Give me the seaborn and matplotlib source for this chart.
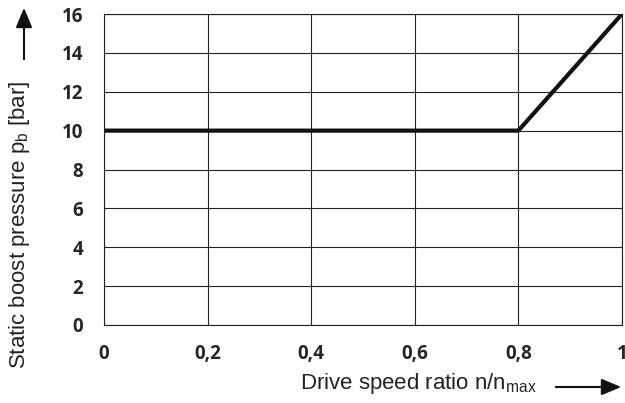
import matplotlib
matplotlib.use('Agg')
import matplotlib.pyplot as plt
import seaborn as sns
import pandas as pd

# 数据：驱动速度比与静态增压压力
speed_ratio = [0.0, 0.8, 1.0]
boost_pressure = [10, 10, 16]
x_ticks = [0, 0.2, 0.4, 0.6, 0.8, 1.0]
x_tick_labels = ['0', '0,2', '0,4', '0,6', '0,8', '1']
y_ticks = [0, 2, 4, 6, 8, 10, 12, 14, 16]

sns.set_theme(style='white')
plt.rcParams['font.family'] = ['Liberation Sans', 'DejaVu Sans']
plt.rcParams['mathtext.fontset'] = 'custom'
plt.rcParams['mathtext.rm'] = 'Liberation Sans'

df = pd.DataFrame({'ratio': speed_ratio, 'pressure': boost_pressure})

fig = plt.figure(figsize=(6.25, 4.03), dpi=100)
ax = fig.add_axes([104 / 625, 1 - 325 / 403, (622 - 104) / 625, (325 - 14) / 403])

sns.lineplot(data=df, x='ratio', y='pressure', ax=ax, color='#111111', linewidth=3)

ax.set_xlim(0, 1)
ax.set_ylim(0, 16)
ax.set_xticks(x_ticks)
ax.set_xticklabels(x_tick_labels)
ax.set_yticks(y_ticks)
ax.grid(True, color='#222222', linewidth=0.8)
for s in ax.spines.values():
    s.set_color('#222222')
    s.set_linewidth(0.8)
ax.tick_params(axis='y', direction='out', length=9, width=0.8, color='#222222', pad=6, labelsize=13.5)
ax.tick_params(axis='x', direction='out', length=5, width=0.8, color='#222222', pad=9, labelsize=13.5)
for lab in ax.get_xticklabels() + ax.get_yticklabels():
    lab.set_fontweight('bold')
    lab.set_family(['Open Sans', 'DejaVu Sans'])
ax.set_xlabel('')
ax.set_ylabel('')

# 坐标轴标题和箭头
fig.text(418 / 625, 1 - 384 / 403, r'Drive speed ratio n/n$_\mathregular{max}$',
         ha='center', va='center', fontsize=16, color='#222222')
fig.text(20 / 625, 1 - 225 / 403, r'Static boost pressure p$_\mathregular{b}$ [bar]',
         ha='center', va='center', rotation=90, fontsize=16, color='#222222')
fig.add_artist(matplotlib.patches.FancyArrowPatch(
    (553 / 625, 1 - 387 / 403), (624 / 625, 1 - 387 / 403), transform=fig.transFigure,
    arrowstyle='-|>,head_length=12,head_width=5', color='#111111', linewidth=1.5))
fig.add_artist(matplotlib.patches.FancyArrowPatch(
    (24 / 625, 1 - 62 / 403), (24 / 625, 1 - 5 / 403), transform=fig.transFigure,
    arrowstyle='-|>,head_length=12,head_width=5', color='#111111', linewidth=1.5))

fig.savefig('out.png', dpi=100)
